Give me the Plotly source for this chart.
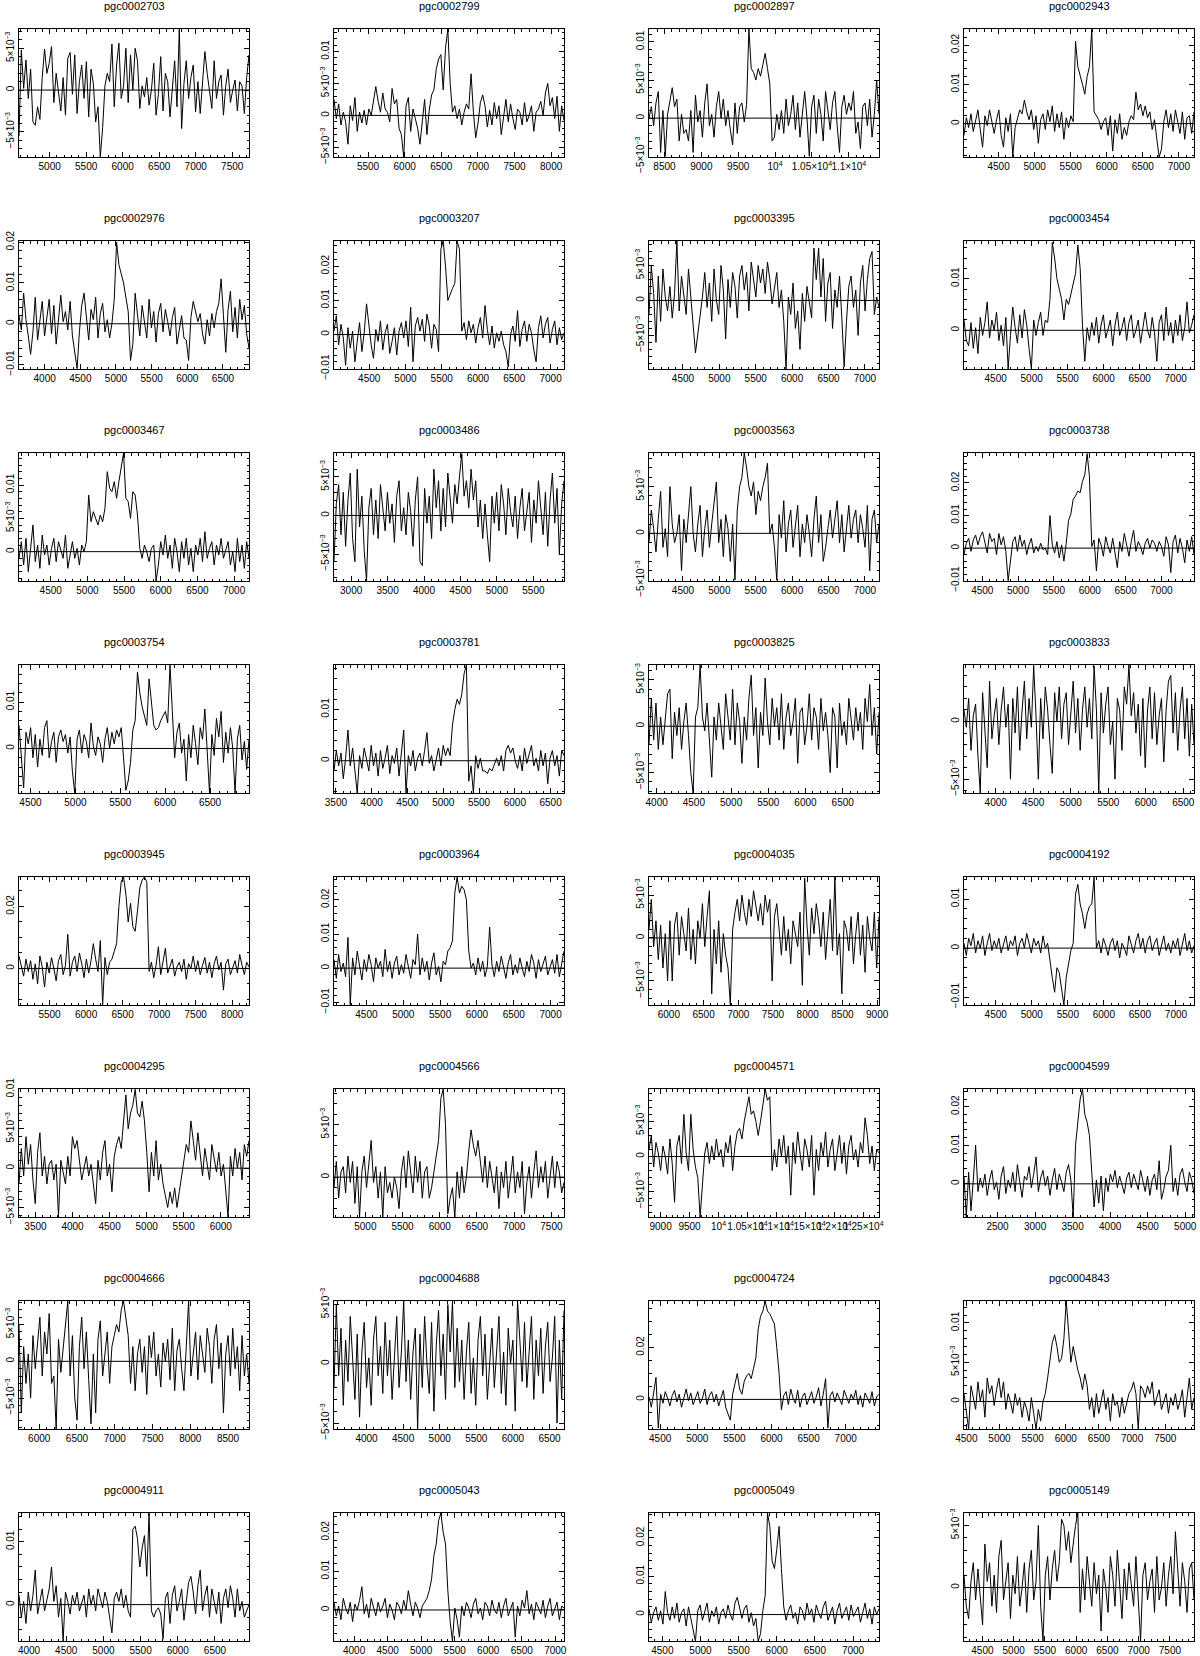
import numpy as np
import plotly.graph_objects as go

# ---------------- data ----------------
galaxies = ["pgc0002703", "pgc0002799", "pgc0002897", "pgc0002943",
            "pgc0002976", "pgc0003207", "pgc0003395", "pgc0003454",
            "pgc0003467", "pgc0003486", "pgc0003563", "pgc0003738",
            "pgc0003754", "pgc0003781", "pgc0003825", "pgc0003833",
            "pgc0003945", "pgc0003964", "pgc0004035", "pgc0004192",
            "pgc0004295", "pgc0004566", "pgc0004571", "pgc0004599",
            "pgc0004666", "pgc0004688", "pgc0004724", "pgc0004843",
            "pgc0004911", "pgc0005043", "pgc0005049", "pgc0005149"]

# velocity coverage of each spectrum (km/s)
vel_lo = [4580, 5035, 8290, 4020, 3640, 4015, 4033, 4060,
          4068, 2765, 4033, 4245, 4372, 3473, 3897, 3577,
          5082, 4060, 5714, 4060, 3278, 4579, 8800, 2053,
          5732, 3556, 4350, 4465, 3865, 3700, 4325, 4206]
vel_hi = [7730, 8175, 11410, 7210, 6865, 7185, 7194, 7255,
          7203, 5920, 7194, 7455, 6934, 6687, 6988, 6643,
          8230, 7182, 9027, 7250, 6381, 7669, 12770, 5117,
          8778, 6698, 7448, 7933, 6958, 7130, 7341, 7886]
# flux axis limits (Jy)
flux_lo = [-0.0080, -0.0065, -0.0051, -0.0085, -0.0111, -0.0101, -0.0098, -0.0075,
           -0.0044, -0.0085, -0.0051, -0.0101, -0.0096, -0.0063, -0.0072, -0.0062,
           -0.0118, -0.0108, -0.0078, -0.0116, -0.0062, -0.0038, -0.0086, -0.0086,
           -0.0092, -0.0055, -0.0114, -0.0035, -0.0058, -0.0080, -0.0069, -0.0043]
flux_hi = [0.0073, 0.0135, 0.0117, 0.0241, 0.0203, 0.0274, 0.0085, 0.0173,
           0.0148, 0.0081, 0.0086, 0.0292, 0.0180, 0.0187, 0.0066, 0.0049,
           0.0295, 0.0267, 0.0071, 0.0145, 0.01005, 0.0084, 0.0096, 0.0246,
           0.0082, 0.0053, 0.0379, 0.0128, 0.0146, 0.0250, 0.0265, 0.0060]
flux_major = [0.005, 0.005, 0.005, 0.01, 0.01, 0.01, 0.005, 0.01,
              0.005, 0.005, 0.005, 0.01, 0.01, 0.01, 0.005, 0.005,
              0.02, 0.01, 0.005, 0.01, 0.005, 0.005, 0.005, 0.01,
              0.005, 0.005, 0.02, 0.005, 0.01, 0.01, 0.01, 0.005]

# flux density values, in units of 1e-3 Jy, evenly spaced in velocity
spec_pgc0002703 = [-5.5, 4.8, 0.2, 3.6, -1.0, 2.5, -3.8, -4.2, -2.0, -3.5,
                   1.5, 4.9, 2.0, 3.2, 5.2, -1.5, 2.0, 0.0, -2.5, 1.5,
                   -3.0, 3.8, 4.5, -0.5, 4.2, -2.8, 1.0, 3.0, -1.0, 3.4,
                   -3.2, 2.5, 0.8, -3.8, -2.0, -8.0, -4.5, 0.5, 2.0, 1.0,
                   5.5, -2.0, 3.0, 5.6, -1.0, 0.5, 5.0, -1.5, 4.2, 0.0,
                   5.0, 3.5, -2.2, 0.5, -0.8, 1.5, -1.8, 0.0, 3.2, -3.0,
                   -0.5, 4.0, -2.5, 2.0, 1.0, -3.2, 0.5, 3.5, -2.0, 7.3,
                   -4.6, 0.8, 3.5, -1.0, 1.5, 3.0, -2.6, 1.0, -2.8, 0.5,
                   4.6, 2.0, -0.5, -2.2, 3.5, -1.0, 1.0, 1.8, -3.0, 0.5,
                   2.5, -1.5, 0.0, 1.2, -2.5, 1.0, 0.5, -2.8, 1.5, 4.2]
spec_pgc0002799 = [2.5, -0.5, 1.8, -1.5, 0.5, -1.0, -4.5, 1.5, -0.8, 2.8,
                   -2.5, 0.5, -1.2, 0.8, -1.5, 1.0, 0.0, 2.0, 4.5, 2.2,
                   0.5, 3.5, 1.0, 0.5, -1.0, 4.2, 1.8, 2.5, -2.0, -3.0,
                   -6.5, 1.5, 2.8, -2.5, 1.0, -0.5, -2.0, -4.5, -1.0, 2.5,
                   -3.0, 0.8, 3.2, 4.0, 7.2, 8.8, 9.5, 4.0, 10.5, 13.5,
                   5.0, 0.5, 1.5, -0.5, 1.0, -1.5, 0.5, 1.8, 1.0, 6.5,
                   0.5, -3.5, -1.2, 2.0, 3.2, 1.5, -1.8, 0.8, -1.5, 2.0,
                   -0.5, 1.5, -3.0, 0.0, 2.5, -1.0, 1.8, -0.5, -2.2, 1.0,
                   0.5, -1.5, 2.0, -1.0, 0.0, 1.5, -2.5, 0.5, 1.0, 2.2,
                   0.0, 3.5, 5.0, 1.5, 2.8, -0.5, 3.0, -2.5, 1.5, -0.8]
spec_pgc0002897 = [0.0, 1.5, -1.0, 2.0, 3.5, -4.5, 1.0, -5.0, 0.5, 2.5,
                   4.0, 1.5, 2.5, -3.0, 0.5, -2.0, -1.5, -3.0, 1.0, -4.5,
                   3.0, -0.5, 1.0, -2.5, 2.0, 4.5, -1.0, 0.5, -2.5, 1.5,
                   3.5, 0.0, 2.5, -1.0, 1.0, -1.5, -3.5, 2.0, -2.0, 1.5,
                   2.0, -0.5, 1.8, 11.7, 6.5, 6.0, 5.0, 6.5, 5.5, 7.0,
                   8.5, 6.5, 4.5, -3.0, -2.5, 0.5, -1.5, 1.0, -2.0, 2.5,
                   -1.0, 0.5, 3.0, -1.5, 2.0, -2.5, 1.0, 3.5, 0.0, -5.0,
                   1.5, 3.0, -2.0, 2.5, 0.5, -3.0, 3.5, 1.0, -1.5, 2.0,
                   3.5, -1.0, -4.5, 1.5, 3.0, 0.5, 2.0, 1.0, 3.5, -2.0,
                   -0.5, -4.0, 1.5, 2.0, -1.0, 2.5, -2.5, 0.5, 5.0, 0.5]
spec_pgc0002943 = [-3.0, 1.5, -1.0, 2.5, -2.0, 1.0, 3.5, -1.5, -6.0, 2.0,
                   -0.5, 3.5, 0.5, -2.5, 1.0, 3.5, -3.0, -6.0, 1.5, -2.0,
                   2.5, -8.5, -1.0, 1.5, 3.5, 2.5, 6.0, 3.0, 1.0, 3.5,
                   -1.5, 2.0, -5.0, 1.0, 2.5, -1.5, 3.5, 0.5, 4.5, -2.0,
                   2.5, -1.0, 3.0, -4.0, 1.5, -1.0, 2.0, 0.5, 21.0, 14.5,
                   12.5, 10.0, 7.5, 12.0, 14.5, 24.0, 3.0, 2.0, 1.0, -1.5,
                   0.5, 1.5, -3.0, 2.0, -7.0, 1.0, -2.5, 2.5, -4.0, -1.0,
                   -3.0, 0.5, 2.0, 1.0, 8.0, 3.5, 5.0, 2.0, 4.5, 1.5,
                   3.0, -1.5, 1.0, -4.0, -8.5, -6.5, 0.5, 3.5, -1.0, 2.5,
                   -2.0, 3.5, 0.5, -2.5, 3.0, -4.0, 1.5, 2.0, -2.5, 3.0]
spec_pgc0002976 = [2.0, -1.5, 7.5, 1.0, -3.0, -7.5, -2.0, 6.5, -4.0, 1.5,
                   5.5, -3.0, 2.0, 6.0, -2.5, 4.5, -5.0, 2.0, 7.0, 0.5,
                   3.0, -1.5, 5.5, -3.0, -6.5, -11.0, -2.0, 4.5, 7.5, 2.0,
                   -4.0, 3.5, 1.0, 6.5, -3.5, 2.5, 5.0, -2.0, 1.0, -3.5,
                   0.0, 6.0, 20.0, 14.5, 12.0, 10.0, 6.5, 3.0, -9.0, -5.0,
                   7.5, 2.0, -3.0, 4.5, 1.0, -3.5, 6.0, -1.0, 3.0, -4.5,
                   2.5, 5.0, -2.0, 3.5, 0.5, -3.0, 1.5, 4.0, -5.0, -1.0,
                   2.0, -3.5, -4.0, -9.0, 1.5, 5.5, 3.0, 0.5, 2.5, -2.5,
                   -5.0, 1.0, -3.0, 2.5, -1.0, 3.0, 5.0, 11.0, 2.0, -7.0,
                   3.5, 8.0, -2.0, 4.0, -3.5, 6.0, 1.0, 4.5, -2.5, -6.0]
spec_pgc0003207 = [1.0, 5.5, -3.0, 3.0, -1.0, -9.0, 2.0, -4.0, 1.0, -8.0,
                   -2.0, 3.5, -5.0, 0.5, 9.0, 2.0, -3.0, -7.0, 1.5, -2.0,
                   4.0, -4.5, 0.5, 3.0, -5.5, -2.0, 2.0, -6.0, 1.0, 3.5,
                   -1.0, 4.0, -3.5, 8.0, -8.0, 2.5, 5.0, 1.0, 4.5, -2.0,
                   6.0, 2.5, -4.0, 3.0, 1.5, -5.0, 25.0, 27.4, 20.0, 10.0,
                   12.0, 13.5, 15.0, 27.4, 25.0, 1.0, 3.5, -1.5, 4.0, 0.5,
                   3.0, -2.5, 2.0, 5.0, -1.0, 8.5, 1.5, -3.0, 2.5, -4.0,
                   0.5, -2.0, 1.0, -3.0, -5.0, -9.5, 0.0, 2.5, -2.0, 7.0,
                   -3.5, 1.5, 4.0, -2.0, 3.0, 0.5, -4.5, -8.0, 2.0, 5.5,
                   -1.0, 3.0, 5.0, -2.5, 1.5, 4.0, -3.0, 2.0, -1.5, 0.5]
spec_pgc0003395 = [-2.0, 5.0, 1.0, -6.0, 3.5, -3.0, 4.5, 0.5, -1.5, 2.0,
                   -2.5, 1.0, 8.5, -1.5, 3.5, 0.5, -2.0, 4.5, 1.0, -3.5,
                   -7.5, -5.0, -2.0, 0.5, 4.0, -1.0, 2.5, -3.0, 4.5, 0.0,
                   -2.0, 5.0, 1.5, -5.5, 3.0, -1.0, 4.0, 2.0, -2.5, 3.5,
                   5.0, 1.5, 4.0, -1.5, 5.5, 3.0, 0.5, 5.0, 2.5, 4.5,
                   1.0, 5.5, 3.0, -0.5, 2.0, 4.0, -1.0, 1.5, -3.0, -9.8,
                   0.5, -2.0, 2.5, -4.0, -1.5, -7.0, 1.0, -3.0, 2.0, 0.0,
                   -2.5, 7.5, 3.0, 7.5, 0.5, 6.0, -3.0, 2.5, 4.0, -4.0,
                   1.5, -1.0, 3.5, -2.5, -9.5, -3.0, 2.0, 3.5, -1.0, 1.5,
                   -5.0, 2.5, 5.0, -1.5, 3.0, 6.0, 7.0, -2.0, 0.5, -1.0]
spec_pgc0003454 = [2.0, -2.0, -3.0, 1.5, -3.5, 0.5, -4.5, 2.5, -1.0, 1.5,
                   5.5, -1.5, 2.0, 0.0, 3.5, -2.0, 1.0, -3.0, 2.5, -7.5,
                   -1.0, 4.5, 0.5, -2.5, 3.0, -1.5, 4.0, 1.0, -3.5, -7.5,
                   2.0, -1.0, 1.5, 3.5, -1.0, 2.0, 1.5, 6.0, 17.0, 14.0,
                   10.0, 8.0, 6.0, 2.0, 6.0, 5.0, 7.0, 9.0, 11.0, 16.5,
                   12.0, 1.0, -6.0, 0.5, -2.0, 1.5, -1.0, 2.5, -2.5, 1.0,
                   3.0, -1.5, 0.5, 2.0, -3.0, 1.0, 3.5, -1.0, 0.5, 2.5,
                   -2.0, 1.5, 3.0, -1.5, 0.0, 2.0, -2.5, 1.0, 3.5, 0.0,
                   -1.5, 2.5, -0.5, -6.0, 1.5, 3.0, -2.0, 4.5, -1.0, 1.5,
                   -2.5, 2.0, -1.0, 3.0, -2.0, 0.5, 5.5, -0.5, 1.0, 3.0]
spec_pgc0003467 = [-1.0, 1.5, -2.0, 2.0, -3.0, 0.5, 4.0, -1.5, 1.0, -2.5,
                   2.5, -0.5, 1.0, -2.0, 0.5, 2.0, -1.5, 1.5, 0.0, -1.0,
                   2.5, -2.5, -0.5, 1.5, -1.0, 0.5, -2.0, 1.0, 0.0, 1.5,
                   8.5, 4.5, 6.0, 5.0, 4.0, 5.5, 4.5, 6.5, 12.0, 9.5,
                   9.0, 10.5, 8.0, 10.5, 12.5, 14.8, 8.0, 7.5, 5.0, 9.0,
                   8.5, 5.5, 0.5, -1.0, 1.0, 0.0, -1.5, 0.5, 1.0, -4.4,
                   -2.0, 1.5, -0.5, 2.5, -1.0, 1.0, -2.5, 2.0, 0.0, -3.0,
                   1.5, -1.0, 2.0, -2.0, 0.5, -3.0, 1.0, -0.5, 2.0, -1.5,
                   3.0, -1.0, 0.5, 1.5, -2.0, 1.0, -0.5, 2.0, -1.0, 0.5,
                   1.5, -2.0, 0.0, -3.0, 2.0, -1.5, 1.0, -2.5, 1.5, -1.0]
spec_pgc0003486 = [-6.0, 1.5, 4.0, -2.5, 3.0, -4.0, 2.0, 5.5, -3.0, -6.0,
                   6.0, -1.5, 2.5, -4.5, -8.5, 1.0, 3.5, -2.5, 2.0, -3.0,
                   4.0, 0.5, -2.0, 3.0, -1.0, 1.5, -3.5, 2.5, 4.5, -2.0,
                   1.0, -2.5, 3.0, 0.5, -4.0, 2.0, 5.0, -6.0, -6.5, 3.5,
                   -1.0, 2.5, -3.0, 6.0, 1.0, 4.5, -2.0, 3.5, -1.5, 5.5,
                   2.5, -1.0, 4.0, 1.5, 5.0, 8.0, 2.5, 4.5, 1.0, 6.0,
                   2.0, 4.5, -1.5, 2.0, -3.0, 1.5, -2.5, -6.0, 2.5, -1.0,
                   3.0, -2.0, 4.0, 1.5, -2.5, 3.5, 0.5, -1.5, 2.5, -3.0,
                   1.0, 3.5, -2.0, 0.5, 3.0, -3.5, 2.0, -1.0, 4.5, 1.0,
                   -2.5, 3.0, -4.0, 2.0, 5.5, -1.0, 3.5, -5.0, 1.5, 4.5]
spec_pgc0003563 = [-1.0, 2.5, 0.5, -2.0, 1.5, 4.5, -1.5, 0.5, -2.5, 5.0,
                   1.0, -1.0, 0.0, 2.0, -4.0, 1.5, -1.0, 2.5, 5.0, 0.0,
                   -2.0, 1.0, 3.0, -2.5, 0.5, 2.5, -1.5, 1.0, 3.0, 5.5,
                   -1.0, 1.5, -2.5, 2.0, 0.5, -3.0, 1.0, -5.0, 2.5, 5.0,
                   6.0, 8.6, 7.0, 5.0, 4.0, 5.5, 2.0, 4.5, 3.5, 5.0,
                   6.0, 7.5, 0.0, 1.0, -1.5, -5.0, 2.0, -0.5, 3.5, -2.0,
                   1.0, 2.5, -1.5, 0.5, 3.0, -2.5, 1.0, -1.0, 2.0, 0.0,
                   -2.5, 1.5, 4.0, -1.0, 2.0, -3.0, -1.5, 0.5, 2.5, -0.5,
                   1.5, 3.5, -1.0, 2.0, -2.0, 0.5, 3.0, -0.5, 1.5, 2.5,
                   -1.0, 2.0, 0.5, -1.5, 3.0, -4.0, 1.5, 2.5, -1.0, 1.0]
spec_pgc0003738 = [-2.0, 1.5, 3.0, -1.0, 2.5, 4.0, 1.0, 3.5, 5.0, 2.0,
                   -1.5, 4.5, 2.0, 3.0, -2.0, 4.5, 1.0, 3.5, -1.0, -10.0,
                   -4.0, 2.0, 3.5, -1.0, 4.0, 0.5, 2.5, -2.0, 1.0, 3.0,
                   -1.5, 0.5, -1.0, 1.5, -0.5, 0.0, -2.0, 10.0, 1.0, -1.5,
                   2.0, -3.0, 1.0, -4.0, 1.5, 8.5, 10.5, 15.0, 16.0, 17.5,
                   17.0, 20.5, 22.5, 29.0, 22.0, 0.5, 2.5, -7.0, 3.0, 1.0,
                   -2.5, 3.5, 0.5, -1.5, 3.0, -2.0, -6.0, 2.0, -1.0, 4.5,
                   1.0, -2.5, 2.0, 5.5, -1.0, 2.0, 0.5, -2.0, 1.5, 3.0,
                   0.0, 2.5, 1.5, -1.0, 2.0, 0.5, -2.5, 3.5, 1.0, -7.5,
                   2.0, 4.0, -1.5, 3.0, 0.0, -4.5, 2.5, -1.0, 3.5, -2.0]
spec_pgc0003754 = [5.0, -3.0, -8.5, 3.5, 1.0, 4.5, -2.0, 3.0, -4.0, 2.0,
                   -1.5, 4.5, 6.0, -2.0, 1.5, 3.5, -3.0, 2.5, 4.0, 1.5,
                   3.0, -1.0, 2.5, -5.0, -9.6, 2.0, 4.0, -1.0, 3.0, 1.5,
                   -2.0, 5.5, 0.5, -1.5, 2.5, 1.0, -3.0, 2.0, 4.5, 0.0,
                   3.5, 1.0, 4.0, 2.5, 4.5, -2.0, -9.0, -7.0, -3.0, 4.0,
                   6.0, 16.5, 12.0, 9.0, 7.0, 5.0, 15.0, 10.0, 5.0, 4.0,
                   4.5, 6.0, 7.0, 8.0, 5.5, 18.0, 8.0, -2.0, 3.5, 5.5,
                   -1.0, 2.0, -7.0, 3.0, -2.0, 5.0, 1.0, -3.5, 4.5, 2.0,
                   8.5, 0.0, -9.6, 3.0, -1.5, 6.5, 2.5, 8.0, -3.0, 3.5,
                   -1.0, 4.5, 0.0, -9.6, 2.0, 5.0, -2.5, 1.5, -4.5, 2.0]
spec_pgc0003781 = [-2.0, 2.0, -1.0, 1.5, -3.5, 0.5, 6.0, -1.0, 2.5, -2.5,
                   -6.3, 1.0, -1.5, 2.5, 0.0, -2.0, 3.0, -1.0, 1.5, -3.0,
                   2.0, -1.5, 0.5, 3.0, -2.5, 1.0, -0.5, 2.5, -3.0, 1.5,
                   6.0, -6.3, 1.0, -1.0, 2.0, -2.0, 0.5, 1.5, -1.0, 2.0,
                   5.5, -0.5, 1.0, -2.0, 0.5, 2.5, -1.0, 3.0, 1.0, 2.5,
                   1.0, 7.0, 10.0, 12.0, 11.0, 13.0, 17.0, 18.7, -4.0, -1.0,
                   -6.3, 1.0, -1.5, 0.5, -2.0, -2.0, -2.5, -1.5, -2.0, -0.5,
                   0.5, -1.0, 1.0, -2.0, 2.0, 3.0, 1.5, 2.5, 0.0, -1.5,
                   1.0, -2.0, 2.5, -0.5, 1.5, 3.0, -1.0, 0.5, -2.0, 2.0,
                   -1.0, 1.5, -4.5, 0.5, 2.0, -1.0, 1.0, -3.0, 2.0, 1.0]
spec_pgc0003825 = [-2.0, 3.0, -1.5, 2.5, -2.5, 1.0, -2.0, 0.5, 3.5, 4.0,
                   -3.5, 1.5, -1.0, 2.0, -2.5, 0.5, 2.5, -1.0, -5.0, -7.2,
                   1.0, 2.0, 6.6, 1.0, -0.5, 2.5, -2.0, -5.5, 1.0, -1.5,
                   2.5, 0.0, -2.5, 3.5, 1.0, -1.5, 4.0, -2.0, 2.5, 0.5,
                   -4.0, 1.0, -1.5, 3.0, 5.5, -1.0, 2.0, -4.5, 1.5, -1.0,
                   5.2, 0.5, -2.0, 3.0, 0.0, 2.0, -1.5, 3.5, -2.5, 1.0,
                   2.5, -1.0, 0.5, 3.0, -4.0, 1.5, 2.0, -2.0, 0.0, 3.5,
                   -1.5, 2.0, 1.0, -2.5, 3.0, -0.5, 1.5, -1.0, -5.0, 2.0,
                   1.0, -4.5, 2.5, -1.0, 0.5, -2.0, 3.0, 1.0, -1.5, 2.0,
                   -0.5, 1.5, -2.5, 3.0, 0.5, 4.5, -1.0, 2.0, -3.0, 1.5]
spec_pgc0003833 = [1.0, -0.5, 2.0, -2.5, 0.5, 1.5, -3.0, -6.2, 2.5, -1.0,
                   -4.0, 3.5, -1.5, 0.5, 2.0, -2.0, 1.0, 3.0, -0.5, 1.5,
                   -5.0, 2.0, -1.0, 3.0, -2.5, 1.0, 3.5, -1.5, 2.0, -0.5,
                   4.8, 0.5, -5.0, 2.0, -1.5, 3.0, 1.0, -2.0, -4.5, 2.5,
                   0.0, 3.0, -1.5, 1.5, 2.5, -2.0, 0.5, 3.5, -1.0, 2.0,
                   -2.5, 1.0, 3.0, -0.5, 2.0, -1.5, 4.8, 1.0, -6.2, 2.5,
                   -1.0, 1.5, 3.0, -2.0, 0.0, -5.0, 2.0, 1.0, -2.5, 3.0,
                   1.5, 4.9, 0.5, 2.5, -1.0, 1.5, -3.0, 2.0, -4.0, 1.0,
                   3.0, -1.5, 2.5, -2.0, 0.5, 2.0, -3.5, 1.0, 3.5, 4.0,
                   -1.0, 2.5, -2.5, 1.0, 3.0, -1.5, 2.0, -3.0, 1.5, -2.0]
spec_pgc0003945 = [4.0, 1.0, -2.5, 3.0, -1.0, 2.5, -3.5, 1.5, -5.0, 4.0,
                   0.5, -6.0, 2.0, -1.5, 3.5, 0.0, -4.0, 2.5, 4.5, -2.0,
                   1.0, 11.0, -2.5, 2.0, 4.0, -1.0, 5.0, 1.5, -3.0, 3.0,
                   -1.5, 2.5, 8.0, 3.0, -1.0, 9.0, -11.8, 3.5, -2.0, 2.0,
                   3.0, 5.5, 8.0, 20.0, 28.0, 29.5, 24.0, 15.0, 21.0, 13.5,
                   12.0, 18.5, 26.0, 28.5, 29.5, 28.0, -1.0, 2.0, -3.0, 1.0,
                   7.0, -2.0, 2.5, 6.5, -1.5, 1.0, 3.0, -2.5, 0.5, 2.0,
                   -1.0, 3.0, -3.5, 1.5, 0.0, 4.0, -1.0, 2.5, -2.0, 1.0,
                   3.5, -1.5, 2.0, -3.0, 1.5, 4.0, -0.5, 2.0, -7.0, 1.5,
                   3.0, -2.0, 0.5, 2.5, -1.5, 4.5, 1.0, -2.0, 2.0, 0.5]
spec_pgc0003964 = [2.5, -3.0, 4.0, -1.0, 1.5, -2.5, 9.0, -10.8, 3.0, -2.0,
                   5.0, 0.5, -3.5, 2.5, -1.0, 4.0, 1.0, -4.0, 3.0, 0.0,
                   2.0, -2.5, 5.5, -1.0, 2.0, -3.0, 1.5, 3.5, -2.0, 1.0,
                   -1.5, 4.0, 0.5, -3.0, 2.5, 1.0, 10.0, -2.0, 3.0, -1.0,
                   2.0, -3.5, 1.5, 4.5, -2.0, 0.5, -4.0, 2.0, 1.0, 5.0,
                   6.0, 8.0, 22.0, 26.7, 22.0, 24.0, 23.0, 20.0, 5.0, 0.0,
                   1.5, -2.0, 3.0, -1.0, 2.0, -2.5, 0.5, 12.0, 1.0, -2.5,
                   2.0, -1.0, 3.5, 0.5, -3.0, 1.5, 4.0, -2.0, 1.0, -1.5,
                   3.0, 0.0, -2.5, 2.0, -1.0, 4.0, 1.5, -3.0, 2.5, -1.0,
                   1.5, 3.5, -2.0, 0.5, 2.5, -1.5, 4.0, -2.5, 1.0, 5.0]
spec_pgc0004035 = [1.0, 4.5, -1.0, 2.0, -2.5, 1.5, -3.5, 0.5, -5.0, 2.0,
                   -5.0, 1.5, 3.0, -2.0, 2.5, 0.5, -1.5, 3.5, -2.5, 1.0,
                   -3.0, 2.0, 0.0, 4.0, -1.0, 2.5, 5.5, -6.5, 1.0, -3.0,
                   2.0, -4.0, 0.5, -2.0, -3.5, -7.8, 1.0, 3.0, 4.5, 2.0,
                   5.0, 3.0, 1.5, 4.5, 2.5, 5.5, 3.5, 2.0, 4.0, 1.5,
                   5.0, 3.0, 4.5, -5.0, 2.5, 4.0, 1.0, -2.0, 2.5, -1.5,
                   1.0, -3.0, 2.0, 0.5, -1.0, 3.0, -5.5, 7.0, 1.5, -2.0,
                   3.5, 0.5, 4.0, 2.0, -1.0, 3.0, -2.5, 1.0, 4.5, -1.5,
                   7.1, -2.0, 0.5, -6.5, 2.0, 1.0, -1.5, 2.5, -3.0, 0.5,
                   3.0, -2.0, 1.5, -4.0, 2.5, 0.0, -1.5, 3.0, -3.5, 2.5]
spec_pgc0004192 = [1.0, -1.5, 2.0, 0.5, 3.0, -1.0, 1.5, 0.0, 2.5, -1.5,
                   1.0, 3.0, -0.5, 1.5, 0.0, 2.0, -1.0, 1.0, 2.5, -0.5,
                   1.5, 0.5, 2.5, -1.5, 1.0, 2.0, 0.0, 3.0, 1.0, -1.0,
                   2.0, 0.5, 1.5, -1.0, 2.5, 0.0, 1.0, -3.0, -6.0, -9.0,
                   -4.0, -5.0, -8.0, -11.6, -6.0, -3.0, -0.5, 1.0, 11.0, 13.0,
                   9.0, 7.0, 4.0, 7.0, 8.5, 9.0, 14.5, 0.0, 1.5, -1.0,
                   2.0, 0.5, -1.5, 1.0, 2.0, -0.5, 1.5, -2.0, 1.0, 0.0,
                   -1.5, 2.5, 0.5, -1.0, 1.5, 3.0, 0.0, 2.0, -1.0, 1.5,
                   2.5, -0.5, 1.0, 2.0, -1.5, 0.5, 2.5, -0.5, 1.0, -1.0,
                   1.5, 0.0, 2.0, -1.5, 1.0, 3.0, -0.5, 1.5, -1.0, 0.5]
spec_pgc0004295 = [-2.0, 2.5, -1.0, 4.0, 0.5, 3.0, -1.5, -4.5, 2.0, 4.5,
                   -1.0, 1.5, -2.0, 0.5, 1.0, -1.5, 0.5, -6.2, 1.0, -0.5,
                   -2.0, 1.5, -1.0, 4.0, 2.5, 3.5, 1.0, -1.5, 0.0, 1.5,
                   -1.0, 0.5, -2.0, -4.5, 1.0, -1.5, 2.0, 3.5, -1.0, 0.5,
                   -3.0, 1.5, 3.0, 4.0, 2.5, 6.0, 9.3, 5.0, 7.0, 8.0,
                   10.0, 7.0, 6.5, 8.5, 6.0, 2.0, -3.0, 2.0, -1.0, 3.5,
                   -1.5, 0.5, -2.0, -3.5, -5.0, -3.0, -4.5, -2.5, -5.0, -3.0,
                   -1.0, 1.0, 3.0, 2.0, 6.0, 3.5, 1.0, 4.5, 2.0, -1.0,
                   2.5, 0.5, -1.5, 3.0, 1.0, -0.5, 2.0, -1.0, 0.5, -3.0,
                   -6.2, 1.5, -1.0, 2.5, 0.0, 2.0, -1.5, 3.0, 1.5, 3.5]
spec_pgc0004566 = [-1.0, 1.5, -2.0, 0.5, 1.0, -1.5, 2.0, -0.5, 1.5, -2.5,
                   1.0, -3.8, 0.5, 2.0, -1.0, 1.5, 3.5, -0.5, 1.0, -2.0,
                   0.5, -3.8, 1.0, -1.5, -0.5, -2.0, 0.0, -1.0, -3.0, 0.5,
                   2.0, -1.0, 2.5, 0.5, -1.5, 2.0, -0.5, 1.5, -2.0, 0.5,
                   1.0, -2.0, -1.0, 0.5, 2.0, 3.5, 7.5, 8.4, 5.0, -3.5,
                   -2.0, -1.0, -3.8, 0.5, -2.0, 1.0, -1.5, 0.0, 2.5, 4.5,
                   3.0, 2.0, 3.5, 1.5, -0.5, 2.0, -1.0, 1.5, 0.0, -1.5,
                   1.0, -3.0, 0.5, -1.0, 1.5, -2.0, 0.0, 2.0, -1.5, 0.5,
                   -1.0, 1.5, -3.5, -0.5, 1.0, -2.0, 0.5, 2.5, -1.0, 1.0,
                   -0.5, 1.5, -2.0, 0.0, 2.0, -1.0, 1.5, 0.5, -1.5, -0.5]
spec_pgc0004571 = [1.0, 3.0, -1.5, 2.0, 0.5, -2.0, 1.5, 0.0, -2.5, 2.5,
                   -1.0, -6.5, 1.5, 3.0, -1.0, 6.0, 0.5, -2.0, 6.0, 1.0,
                   -1.5, -3.0, -8.6, -4.0, 0.5, 2.0, -1.0, 1.5, -0.5, 2.5,
                   0.0, 1.0, -1.5, 2.0, 0.5, 3.0, -2.0, 1.5, 3.5, 4.0,
                   2.5, 5.0, 7.0, 8.5, 6.0, 6.5, 5.0, 3.0, 5.0, 7.0,
                   9.6, 8.0, 8.5, -2.0, 1.0, -1.5, 2.5, 0.0, 3.0, -1.0,
                   1.5, -5.5, 2.0, -1.0, 3.5, 0.5, -2.0, 2.5, 1.0, -1.5,
                   3.0, -5.5, 1.0, -2.0, 2.0, 0.0, 3.5, -1.5, 1.0, 2.5,
                   -2.0, 0.5, 3.0, -1.0, 2.0, -2.5, 1.5, 3.0, -0.5, 1.0,
                   -1.5, 2.0, 0.5, 5.5, 3.0, -1.0, 1.5, -2.0, 1.0, 0.5]
spec_pgc0004599 = [2.0, -8.6, 3.0, -7.0, 1.0, 10.0, -2.0, 1.5, -1.0, 2.5,
                   -3.0, 1.0, 3.5, -1.5, 0.5, -4.0, 2.0, 4.5, -2.5, 1.0,
                   -1.0, 3.0, -2.0, 5.0, 0.5, -3.5, 2.0, 1.0, 4.5, -1.0,
                   2.5, 7.0, -2.0, 1.5, 3.5, -0.5, 2.0, -3.0, 1.0, 4.0,
                   -1.5, 2.5, 0.5, -2.0, 3.0, 5.0, 1.0, -8.6, 10.0, 17.0,
                   22.0, 24.6, 18.0, 16.0, 12.5, 3.0, -6.0, 1.0, -5.0, 2.0,
                   -7.0, 1.5, -2.0, 2.5, 0.5, 3.5, -1.0, 2.0, 0.0, -2.5,
                   1.5, 3.0, -1.0, 2.5, 0.5, -1.5, 3.5, 1.0, -2.0, 2.0,
                   -3.0, 1.0, 2.5, -1.5, 6.0, -4.0, -1.5, 2.0, 3.5, 10.0,
                   -2.0, 1.5, -3.0, 2.5, 4.0, 0.5, -2.0, 3.0, 1.0, -2.5]
spec_pgc0004666 = [5.0, -7.0, 2.0, -3.0, 1.0, -5.0, 3.5, -1.0, 2.5, 6.0,
                   -2.0, 4.0, 1.0, 6.5, -3.0, -2.0, -9.2, 3.0, -1.5, 2.0,
                   5.5, 8.2, -2.0, 3.5, -5.0, -8.0, 2.0, 6.0, -1.0, 4.0,
                   -2.5, -8.5, 1.0, -7.0, 3.0, 5.5, -2.0, 1.5, 4.0, -3.0,
                   2.0, 3.5, 5.0, 4.0, 7.0, 8.2, 6.0, 3.5, -3.0, 2.0,
                   -4.0, 1.0, 3.0, -1.5, 2.0, -4.5, 3.5, 0.5, 4.0, -2.0,
                   1.0, -3.5, 2.5, 0.0, 3.0, -2.5, 4.5, -4.0, 1.5, 3.0,
                   -1.0, -4.0, 2.0, 8.2, -2.0, 1.0, 4.0, -2.5, 3.5, 1.0,
                   -1.5, 4.5, 2.0, -3.0, 3.0, 5.0, -1.0, 2.5, -7.0, 1.0,
                   3.5, -2.0, 4.5, -1.0, 2.0, -4.0, 3.5, -2.0, 1.0, -3.0]
spec_pgc0004688 = [-2.0, 5.0, -1.0, 3.0, -3.5, 2.0, -1.5, 4.0, 0.5, -3.0,
                   2.5, -4.5, 1.0, 3.5, -2.0, 0.5, -3.5, 2.0, 4.0, -1.0,
                   1.5, -2.5, 3.5, -1.0, 2.0, -3.0, 0.5, 4.0, -2.0, 1.0,
                   5.3, -1.5, 2.0, -3.0, 1.0, 3.0, -5.5, 2.5, -2.0, 4.0,
                   0.0, -2.5, 3.5, -4.0, 1.5, 4.5, -1.0, 2.5, -3.0, 5.0,
                   1.0, 5.3, -2.0, 3.0, -1.5, 2.0, -3.0, 1.0, 3.5, -2.5,
                   0.5, -3.5, 2.0, 4.0, -1.0, 2.5, -3.0, 0.5, 3.0, -2.0,
                   1.5, 4.0, -2.5, 1.0, -3.5, 3.0, 0.0, 2.0, -4.0, 5.3,
                   2.0, -1.5, 3.5, -2.0, 1.0, 4.0, -3.0, 2.0, -1.0, 3.0,
                   -2.5, 1.5, 3.5, -1.5, 0.5, 4.0, -5.0, 2.0, -3.0, 4.5]
spec_pgc0004724 = [1.0, -3.0, 2.5, 8.5, -11.0, 2.0, -1.5, 3.0, 0.5, -2.5,
                   1.5, 3.5, -1.0, 2.0, -3.0, 1.0, 4.0, -0.5, 2.5, -2.0,
                   1.0, 3.0, -1.5, 0.5, 4.0, -2.0, 1.5, 3.0, -1.0, 2.0,
                   -2.5, 1.0, 3.5, -3.0, -5.5, -8.0, 2.0, 6.0, 10.0, 4.0,
                   2.0, 7.0, 9.0, 10.0, 8.0, 12.0, 16.0, 27.0, 32.0, 34.0,
                   37.9, 34.0, 33.0, 31.0, 29.0, 20.0, 10.0, -4.0, 1.5, 3.0,
                   -2.0, 4.0, 0.5, -1.5, 3.5, -3.0, 1.0, 2.5, -2.0, 0.5,
                   3.0, -1.5, 1.0, 4.5, -2.5, 2.0, 8.0, -11.0, 1.5, 3.0,
                   -1.0, 2.5, 0.5, -2.0, 3.5, 1.0, -1.5, 2.0, 0.0, 3.5,
                   -2.0, 1.5, -3.0, 2.5, 0.5, -1.5, 3.0, -2.5, 1.0, 2.0]
spec_pgc0004843 = [1.0, -1.5, -3.5, 2.0, 0.5, -1.0, 2.5, 0.0, 1.5, -2.0,
                   3.0, 1.0, 2.0, -0.5, 1.5, 3.0, 0.5, 2.5, -1.0, 1.0,
                   0.0, -1.5, 1.0, -0.5, 0.5, -2.0, 0.0, -1.0, -2.5, 0.5,
                   -1.5, -3.5, -1.0, -2.5, 0.0, 1.0, 3.0, 5.0, 7.5, 8.5,
                   7.0, 5.0, 5.5, 8.0, 12.8, 9.0, 5.0, 7.0, 5.5, 4.0,
                   3.0, 1.5, 3.5, 2.0, -1.0, 0.5, -2.0, 1.0, -1.5, 0.0,
                   1.5, -1.0, 0.5, -2.5, 1.0, -0.5, 0.0, -2.0, 0.5, -1.5,
                   0.0, 1.0, 1.5, 2.5, 1.0, -3.5, 2.0, 1.5, 0.5, 2.0,
                   1.0, 2.5, -0.5, 0.5, 1.5, -1.0, 0.0, 1.0, -1.5, 0.5,
                   -0.5, 1.0, -1.0, 0.0, 1.5, -2.0, 0.5, 3.0, -1.0, 0.5]
spec_pgc0004911 = [1.5, -2.0, 0.5, -3.0, 2.0, -1.0, 1.5, 5.5, -1.5, 0.5,
                   2.5, -1.0, 1.0, 2.5, 6.0, 0.5, 3.0, -2.0, 1.0, -5.8,
                   2.0, 0.5, -1.5, 1.5, 0.0, 2.0, -1.0, 0.5, 1.5, -2.0,
                   2.5, 0.0, 1.5, -1.0, 2.5, 1.0, -0.5, 2.0, 0.5, -2.0,
                   -4.5, 1.0, 2.0, 0.5, 2.5, -0.5, 1.5, -1.0, -2.0, 12.0,
                   12.5, 10.5, 6.0, 9.0, 11.0, 4.5, 14.6, -1.0, -2.0, -1.0,
                   -0.5, -1.5, -5.5, 1.0, 2.0, -3.0, 1.5, 3.0, -1.0, 0.5,
                   2.5, -2.5, 1.0, 3.5, 4.5, 2.0, -1.5, 3.0, 5.5, -1.0,
                   1.5, 3.0, -2.0, 2.5, 0.5, -1.5, 2.0, -3.0, 1.0, 2.5,
                   -0.5, 3.0, 1.0, -2.0, 2.5, -1.0, 0.5, -2.0, -1.0, 0.0]
spec_pgc0005043 = [2.0, -1.5, 1.0, -2.5, 3.0, 0.5, -1.0, 2.0, -3.0, 1.5,
                   0.0, 2.5, 6.0, -1.0, 1.5, -2.0, 3.0, 0.5, -1.5, 2.0,
                   -0.5, 1.0, 3.0, -2.0, 1.5, 0.0, -2.5, 2.0, 1.0, -1.0,
                   2.5, 0.0, 5.0, 1.5, -1.5, 2.0, 0.5, -2.0, 1.0, 2.0,
                   3.0, 5.0, 8.0, 14.0, 17.0, 23.0, 25.0, 20.0, 17.0, 5.0,
                   -3.0, -8.0, 0.5, -2.5, -7.0, 1.0, -1.5, 2.0, 0.5, -2.0,
                   1.5, 3.0, -1.0, 0.5, -2.5, 2.0, 1.0, -1.5, 2.5, 0.0,
                   -1.0, 2.0, -2.0, 1.0, 3.0, -1.5, 0.5, 2.0, -7.0, 1.0,
                   -1.5, 2.5, 0.5, 5.0, -1.0, 1.5, -2.5, 2.0, 0.5, -1.0,
                   2.5, -2.0, 1.0, 3.0, -1.5, 0.5, 2.0, -2.5, 1.0, 0.5]
spec_pgc0005049 = [1.5, -2.0, 0.5, 2.0, -1.5, 1.0, -2.5, 6.0, 0.5, -1.5,
                   2.0, -1.0, 3.0, -2.0, 0.5, 1.5, -3.0, 2.0, -1.0, -4.0,
                   -7.0, 1.0, 2.5, -1.5, 0.5, 3.0, -2.0, 1.0, -0.5, 2.0,
                   -2.5, 0.5, 1.5, -1.0, 2.5, 0.0, -1.5, 3.0, 4.5, 2.0,
                   -1.0, 1.5, 2.5, -2.0, 0.5, -3.0, -1.0, -6.9, -5.0, 1.0,
                   5.0, 26.5, 23.0, 14.0, 12.0, 17.0, 23.0, 12.0, 2.0, -1.5,
                   1.0, 2.5, -1.0, 0.5, -2.5, 2.0, 1.0, -1.5, 3.0, 0.0,
                   1.5, -2.0, 2.5, 0.5, -1.0, 2.0, 3.5, -1.5, 0.5, 2.0,
                   -2.5, 1.0, 3.0, -1.0, 0.5, 2.0, -1.5, 2.5, -0.5, 1.0,
                   2.0, -2.0, 0.5, 3.0, -1.0, 1.5, -2.5, 2.0, 0.0, 1.5]
spec_pgc0005149 = [1.0, -1.5, -2.5, 0.5, 2.0, -1.0, 1.5, -0.5, -3.0, 3.5,
                   0.5, 2.0, -1.5, 1.0, -2.0, 2.5, 3.8, -1.0, 0.5, 2.0,
                   -2.5, 1.0, -0.5, 2.5, -1.5, 0.0, 2.0, -2.0, 1.5, 3.0,
                   -1.0, 0.5, 5.0, -1.5, -4.3, 1.0, 2.5, -1.0, 1.5, 3.0,
                   0.5, 2.0, 5.5, 5.0, 3.0, 4.5, 2.0, 3.5, 5.0, 6.0,
                   -2.0, 1.5, -1.0, 2.5, 0.5, -1.5, 2.0, -0.5, 1.0, -3.5,
                   1.5, 0.0, -2.0, 2.5, 1.0, -1.5, 3.0, 0.5, -2.5, 1.5,
                   -1.0, 2.0, 0.0, -1.5, 2.5, -0.5, -4.3, 1.0, 2.0, -1.0,
                   0.5, 1.5, -2.0, 2.5, -1.0, 0.0, 2.0, -1.5, 1.0, 2.5,
                   -0.5, 4.5, 1.0, -1.5, 2.0, 0.5, -2.0, 1.5, 2.0, -1.0]

spectra = [spec_pgc0002703, spec_pgc0002799, spec_pgc0002897, spec_pgc0002943,
           spec_pgc0002976, spec_pgc0003207, spec_pgc0003395, spec_pgc0003454,
           spec_pgc0003467, spec_pgc0003486, spec_pgc0003563, spec_pgc0003738,
           spec_pgc0003754, spec_pgc0003781, spec_pgc0003825, spec_pgc0003833,
           spec_pgc0003945, spec_pgc0003964, spec_pgc0004035, spec_pgc0004192,
           spec_pgc0004295, spec_pgc0004566, spec_pgc0004571, spec_pgc0004599,
           spec_pgc0004666, spec_pgc0004688, spec_pgc0004724, spec_pgc0004843,
           spec_pgc0004911, spec_pgc0005043, spec_pgc0005049, spec_pgc0005149]

# ---------------- layout helpers ----------------
W, H = 1200, 1656
NCOL = 4
FONT = "Liberation Sans, Arial, sans-serif"


def ytick_text(v):
    if abs(v) < 1e-12:
        return "0"
    sign = "\u2212" if v < 0 else ""
    a = abs(v)
    if abs(a - 0.005) < 1e-9:
        return sign + "5\u00d710<sup>\u22123</sup>"
    return sign + ("%g" % a)


def xtick_text(v):
    if v < 10000:
        return "%d" % v
    m = v / 1e4
    if abs(m - 1) < 1e-9:
        return "10<sup>4</sup>"
    return ("%g" % m) + "\u00d710<sup>4</sup>"


fig = go.Figure()
shapes = []
annotations = []

for k, name in enumerate(galaxies):
    r, c = divmod(k, NCOL)
    n = k + 1
    xs = "" if n == 1 else str(n)
    left_px, right_px = 19 + 315 * c, 249 + 315 * c
    top_px, bot_px = 29 + 212 * r, 157 + 212 * r

    flux = np.array(spectra[k]) * 1e-3
    vel = np.linspace(vel_lo[k], vel_hi[k], len(flux))

    fig.add_trace(go.Scatter(x=vel, y=flux, mode="lines",
                             line=dict(color="black", width=1),
                             xaxis="x" + xs, yaxis="y" + xs,
                             showlegend=False, hoverinfo="skip"))

    # ticks
    xt = [v for v in range(0, 20001, 500) if vel_lo[k] <= v <= vel_hi[k]]
    dm = flux_major[k]
    yt = []
    j = int(np.floor(flux_lo[k] / dm)) - 1
    while j * dm <= flux_hi[k] + 1e-12:
        v = round(j * dm, 6)
        if flux_lo[k] - 1e-12 <= v <= flux_hi[k] + 1e-12:
            yt.append(v)
        j += 1
    yminor = {0.005: 0.001, 0.01: 0.002, 0.02: 0.005}[dm]

    common = dict(showgrid=False, zeroline=False, showline=True,
                  linecolor="black", linewidth=1, mirror="allticks",
                  ticks="inside", tickcolor="black", tickwidth=1,
                  ticklen=5, automargin=False,
                  tickfont=dict(family=FONT, size=10, color="black"))

    fig.layout["xaxis" + xs] = dict(
        domain=[left_px / W, right_px / W], anchor="y" + xs,
        range=[vel_lo[k], vel_hi[k]], tickmode="array",
        tickvals=xt, ticktext=[xtick_text(v) for v in xt], tickangle=0,
        minor=dict(tickmode="linear", tick0=0, dtick=100, ticks="inside",
                   ticklen=2.5, tickcolor="black", tickwidth=1),
        **common)
    fig.layout["yaxis" + xs] = dict(
        domain=[1 - bot_px / H, 1 - top_px / H], anchor="x" + xs,
        range=[flux_lo[k], flux_hi[k]], tickmode="array",
        tickvals=yt, ticktext=[ytick_text(v) for v in yt], tickangle=-90,
        minor=dict(tickmode="linear", tick0=0, dtick=yminor, ticks="inside",
                   ticklen=2.5, tickcolor="black", tickwidth=1),
        **common)

    shapes.append(dict(type="line", xref="x" + xs + " domain", x0=0, x1=1,
                       yref="y" + xs, y0=0, y1=0,
                       line=dict(color="black", width=1)))
    annotations.append(dict(text=name, xref="paper", yref="paper",
                            x=(left_px + right_px) / 2 / W,
                            y=1 - (top_px - 23) / H,
                            xanchor="center", yanchor="middle",
                            showarrow=False,
                            font=dict(family=FONT, size=11, color="black")))

fig.update_layout(width=W, height=H, margin=dict(l=0, r=0, t=0, b=0, pad=0),
                  paper_bgcolor="white", plot_bgcolor="white",
                  showlegend=False, shapes=shapes, annotations=annotations)

# remove the default page margin so the figure sits at the window origin
fig.write_html("out.html",
               config={"displayModeBar": False, "staticPlot": True},
               post_script="document.body.style.margin='0';"
                           "document.body.style.overflow='hidden';")
